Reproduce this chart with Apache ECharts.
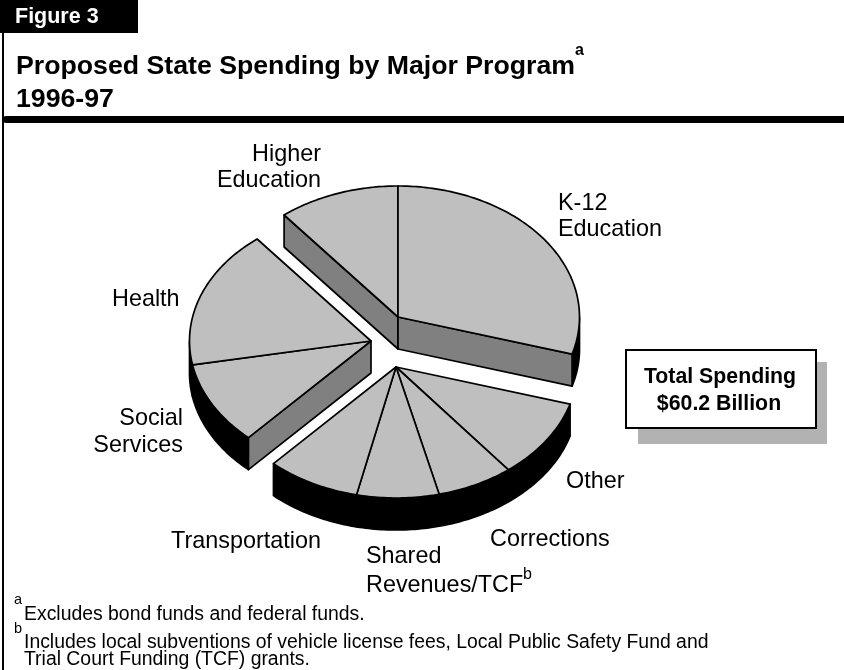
<!DOCTYPE html>
<html>
<head>
<meta charset="utf-8">
<style>html,body{margin:0;padding:0;background:#fff}#chart{width:844px;height:670px}</style>
<script src="https://cdn.jsdelivr.net/npm/echarts@6/dist/echarts.min.js"></script>
</head>
<body>
<div id="chart"></div>
<script>
// Spending by program, billions of dollars, clockwise from the Higher Education edge
const programs = ['Higher Education', 'K-12 Education', 'Other', 'Corrections',
  'Shared Revenues/TCF', 'Transportation', 'Social Services', 'Health'];
const spending = [6.5, 17.8, 5.9, 4.1, 4.4, 5.0, 6.2, 10.3];
// Which exploded wedge each program belongs to
const wedge = [0, 0, 1, 1, 1, 1, 2, 2];
const wedgeApex = [[398, 317], [396, 367], [371, 341]];

const RX = 181.5, RY = 131, DEPTH = 32;
const TOP = '#bfbfbf', WALL = '#808080', RIM = '#000000', INK = '#000000';
const FONT = '"Liberation Sans", Arial, sans-serif';
const total = spending.reduce((a, b) => a + b, 0);

// Rotate so the Higher Education / K-12 boundary points straight up
const turn = -spending[0] / total * 360;
let running = 0;
const sliceData = spending.map((v, i) => {
  const start = turn + running / total * 360;
  running += v;
  return { name: programs[i], value: [start, turn + running / total * 360, wedge[i], v] };
});

function rimPoint(apex, deg, drop) {
  const t = deg * Math.PI / 180;
  return [apex[0] + RX * Math.sin(t), apex[1] - RY * Math.cos(t) + drop];
}
function arc(apex, a, b, drop) {
  const pts = [], n = Math.max(2, Math.ceil(Math.abs(b - a)));
  for (let i = 0; i <= n; i++) pts.push(rimPoint(apex, a + (b - a) * i / n, drop));
  return pts;
}
const outline = { stroke: INK, lineWidth: 1.7, lineJoin: 'round' };

function renderSlice(params, api) {
  const a = api.value(0), b = api.value(1), g = api.value(2);
  const apex = wedgeApex[g];
  const kids = [];
  const poly = (points, fill) => kids.push({
    type: 'polygon', shape: { points }, style: { fill, ...outline }
  });
  const wall = deg => {
    const e = rimPoint(apex, deg, 0);
    poly([apex, e, [e[0], e[1] + DEPTH], [apex[0], apex[1] + DEPTH]], WALL);
  };
  const prevSame = params.dataIndex > 0 && wedge[params.dataIndex - 1] === g;
  const nextSame = params.dataIndex < wedge.length - 1 && wedge[params.dataIndex + 1] === g;
  // Outer rim: only the part of the slice on the near half of the ellipse shows
  const lo = Math.max(a, 90), hi = Math.min(b, 270);
  if (hi > lo) {
    poly(arc(apex, lo, hi, 0).concat(arc(apex, hi, lo, DEPTH)), RIM);
  }
  // Cut faces of a wedge show only where they turn toward the viewer
  if (!prevSame && Math.sin(a * Math.PI / 180) < 0) wall(a);
  if (!nextSame && Math.sin(b * Math.PI / 180) > 0) wall(b);
  poly([apex].concat(arc(apex, a, b, 0)), TOP);
  return { type: 'group', children: kids };
}

const text = (x, y, t, size, extra) => ({
  type: 'text', x, y: y + 1.5, silent: true,
  style: Object.assign({ text: t, fill: INK, font: `${size}px ${FONT}`,
    textVerticalAlign: 'middle', textBaseline: 'middle' }, extra || {})
});
const LABEL = 23.4, NOTE = 19.4, CALLOUT = 21.3;

const chart = echarts.init(document.getElementById('chart'));
chart.setOption({
  animation: false,
  backgroundColor: '#fff',
  title: {
    text: 'Proposed State Spending by Major Program\n1996-97',
    left: 11, top: 45,
    textStyle: { fontFamily: FONT, fontWeight: 'bold', fontSize: 26.7, color: INK, lineHeight: 33 }
  },
  series: [{
    type: 'custom',
    coordinateSystem: 'none',
    renderItem: renderSlice,
    data: sliceData
  }],
  graphic: [
    // Page furniture
    { type: 'rect', shape: { x: 0, y: 0, width: 138, height: 33 }, style: { fill: INK } },
    { type: 'rect', shape: { x: 2, y: 33, width: 2, height: 637 }, style: { fill: INK } },
    { type: 'rect', shape: { x: 3, y: 116, width: 845, height: 7, r: 3 }, style: { fill: INK } },
    text(15, 16, 'Figure 3', 21.5, { fill: '#fff', font: `bold 21.5px ${FONT}` }),
    text(575, 49, 'a', 16, { font: `bold 16px ${FONT}` }),
    // Program labels
    text(321, 153, 'Higher', LABEL, { textAlign: 'right' }),
    text(321, 179, 'Education', LABEL, { textAlign: 'right' }),
    text(558, 202, 'K-12', LABEL),
    text(558, 228, 'Education', LABEL),
    text(112, 298, 'Health', LABEL),
    text(183, 417, 'Social', LABEL, { textAlign: 'right' }),
    text(183, 444, 'Services', LABEL, { textAlign: 'right' }),
    text(171, 540, 'Transportation', LABEL),
    text(366, 555, 'Shared', LABEL),
    text(366, 584, 'Revenues/TCF', LABEL),
    text(523, 573, 'b', 16),
    text(490, 538, 'Corrections', LABEL),
    text(566, 480, 'Other', LABEL),
    // Total callout
    { type: 'rect', shape: { x: 638, y: 362, width: 189, height: 82 }, style: { fill: '#b2b2b2' } },
    { type: 'rect', shape: { x: 626, y: 350, width: 190, height: 78 }, style: { fill: '#fff', stroke: INK, lineWidth: 2 } },
    text(720, 376, 'Total Spending', CALLOUT, { textAlign: 'center', font: `bold ${CALLOUT}px ${FONT}` }),
    text(719, 403, '$60.2 Billion', CALLOUT, { textAlign: 'center', font: `bold ${CALLOUT}px ${FONT}` }),
    // Footnotes
    text(14, 598, 'a', 14.5),
    text(24, 613, 'Excludes bond funds and federal funds.', NOTE),
    text(14, 627, 'b', 14.5),
    text(24, 641, 'Includes local subventions of vehicle license fees, Local Public Safety Fund and', NOTE),
    text(24, 658, 'Trial Court Funding (TCF) grants.', NOTE)
  ]
});
</script>
</body>
</html>
